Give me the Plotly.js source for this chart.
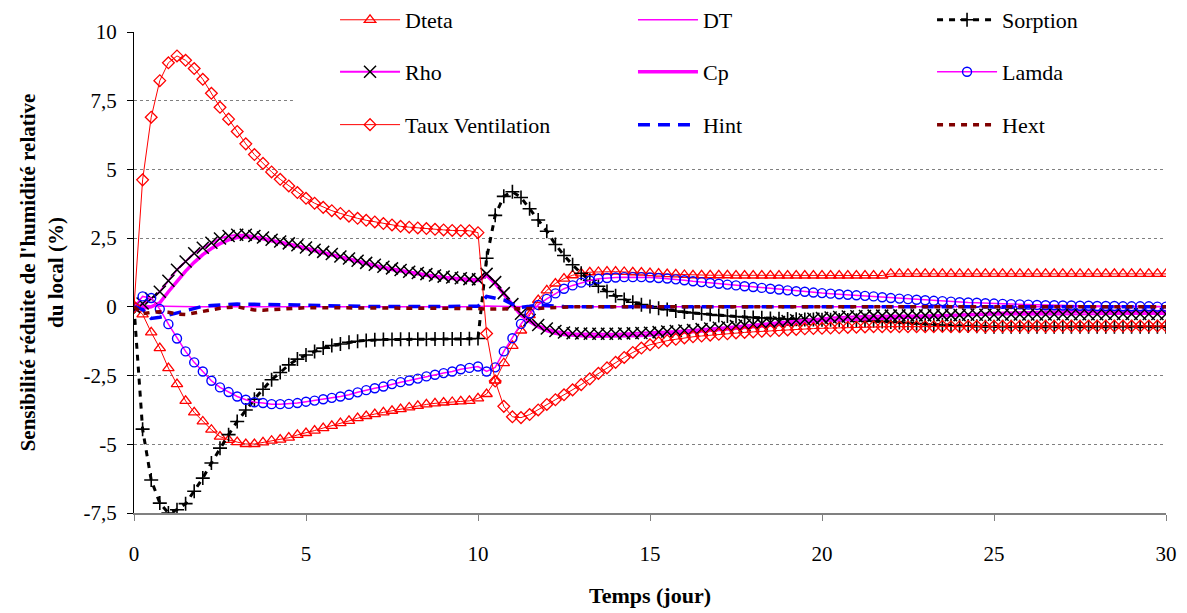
<!DOCTYPE html>
<html>
<head>
<meta charset="utf-8">
<script src="https://cdn.plot.ly/plotly-3.0.1.min.js"></script>
<style>html,body{margin:0;padding:0;background:#fff;}#chart{width:1187px;height:613px;}#chart svg text{font-family:'Liberation Serif' !important;}</style>
</head>
<body>
<div id="chart"></div>
<script>
// Time (days)
const time = [
0,0.25,0.5,0.75, 1,1.25,1.5,1.75, 2,2.25,2.5,2.75, 3,3.25,3.5,3.75, 4,4.25,4.5,4.75,
5,5.25,5.5,5.75, 6,6.25,6.5,6.75, 7,7.25,7.5,7.75, 8,8.25,8.5,8.75, 9,9.25,9.5,9.75,
10,10.25,10.5,10.75, 11,11.25,11.5,11.75, 12,12.25,12.5,12.75, 13,13.25,13.5,13.75, 14,14.25,14.5,14.75,
15,15.25,15.5,15.75, 16,16.25,16.5,16.75, 17,17.25,17.5,17.75, 18,18.25,18.5,18.75, 19,19.25,19.5,19.75,
20,20.25,20.5,20.75, 21,21.25,21.5,21.75, 22,22.25,22.5,22.75, 23,23.25,23.5,23.75, 24,24.25,24.5,24.75,
25,25.25,25.5,25.75, 26,26.25,26.5,26.75, 27,27.25,27.5,27.75, 28,28.25,28.5,28.75, 29,29.25,29.5,29.75,
30];

const dteta = [
0,-0.27,-0.93,-1.50, -2.23,-2.81,-3.42,-3.84, -4.17,-4.47,-4.72,-4.84, -4.92,-4.99,-4.99,-4.93, -4.87,-4.83,-4.76,-4.66,
-4.59,-4.50,-4.41,-4.33, -4.23,-4.15,-4.05,-3.97, -3.90,-3.84,-3.78,-3.72, -3.66,-3.60,-3.55,-3.51, -3.48,-3.46,-3.44,-3.42,
-3.33,-3.17,-2.68,-2.05, -1.42,-0.86,-0.30,0.25, 0.60,0.85,1.03,1.15, 1.22,1.26,1.27,1.28, 1.28,1.27,1.26,1.25,
1.23,1.21,1.19,1.18, 1.16,1.15,1.15,1.15, 1.15,1.15,1.14,1.14, 1.14,1.14,1.14,1.14, 1.14,1.14,1.14,1.14,
1.14,1.14,1.14,1.14, 1.14,1.14,1.14,1.14, 1.20,1.20,1.20,1.20, 1.20,1.20,1.20,1.20, 1.20,1.20,1.20,1.20,
1.20,1.20,1.20,1.20, 1.20,1.20,1.20,1.20, 1.20,1.20,1.20,1.20, 1.20,1.20,1.20,1.20, 1.20,1.20,1.20,1.20,
1.20];

const dt = [
0,0.04,0.03,0.02, 0.01,0.01,0.00,0.00, 0.00,0.00,0.00,0.00, 0.00,0.00,0.00,0.00, 0.00,0.00,0.00,0.00,
0.00,0.00,0.00,0.00, 0.00,0.00,0.00,0.00, 0.01,0.01,0.01,0.01, 0.02,0.01,0.01,0.00, 0.00,0.00,0.00,0.00,
0.00,0.03,0.02,0.01, 0.00,0.00,0.00,0.00, 0.00,0.00,0.00,0.00, 0.00,0.00,0.00,0.00, 0.00,0.00,0.00,0.00,
0.00,0.00,0.00,0.00, 0.00,0.00,0.00,0.00, 0.00,0.00,0.00,0.00, 0.00,0.00,0.00,0.00, 0.00,0.00,0.00,0.00,
0.00,0.00,0.00,0.00, 0.00,0.00,0.00,0.00, 0.00,0.00,0.00,0.00, 0.00,0.00,0.00,0.00, 0.00,0.00,0.00,0.00,
0.00,0.00,0.00,0.00, 0.00,0.00,0.00,0.00, 0.00,0.00,0.00,0.00, 0.00,0.00,0.00,0.00, 0.00,0.00,0.00,0.00,
0.00];

const sorption = [
0,-4.45,-6.30,-7.14, -7.50,-7.38,-7.16,-6.71, -6.23,-5.68,-5.14,-4.65, -4.17,-3.75,-3.36,-3.00, -2.65,-2.39,-2.11,-1.90,
-1.75,-1.62,-1.50,-1.41, -1.35,-1.29,-1.25,-1.22, -1.20,-1.19,-1.19,-1.18, -1.18,-1.18,-1.18,-1.17, -1.17,-1.17,-1.17,-1.16,
-1.15,1.77,3.33,4.02, 4.19,3.98,3.57,3.16, 2.75,2.27,1.87,1.53, 1.22,0.97,0.75,0.56, 0.40,0.27,0.17,0.08,
0.01,-0.05,-0.10,-0.15, -0.19,-0.22,-0.25,-0.28, -0.31,-0.33,-0.35,-0.37, -0.39,-0.40,-0.42,-0.43, -0.44,-0.45,-0.46,-0.46,
-0.47,-0.47,-0.48,-0.48, -0.49,-0.50,-0.51,-0.53, -0.55,-0.57,-0.59,-0.61, -0.63,-0.65,-0.66,-0.68, -0.69,-0.70,-0.71,-0.72,
-0.72,-0.72,-0.72,-0.72, -0.72,-0.72,-0.72,-0.72, -0.72,-0.72,-0.72,-0.72, -0.72,-0.72,-0.72,-0.72, -0.72,-0.72,-0.72,-0.72,
-0.72];

const rho = [
0,0.12,0.30,0.55, 0.95,1.35,1.65,1.95, 2.15,2.33,2.49,2.58, 2.62,2.62,2.58,2.52, 2.44,2.38,2.31,2.24,
2.16,2.08,2.00,1.92, 1.83,1.76,1.68,1.60, 1.53,1.46,1.40,1.34, 1.28,1.23,1.19,1.14, 1.10,1.07,1.04,1.01,
1.00,1.20,0.90,0.50, 0.10,-0.25,-0.48,-0.66, -0.79,-0.88,-0.93,-0.96, -0.97,-0.98,-0.98,-0.98, -0.98,-0.97,-0.96,-0.95,
-0.94,-0.92,-0.90,-0.88, -0.86,-0.84,-0.81,-0.79, -0.76,-0.73,-0.70,-0.67, -0.64,-0.61,-0.58,-0.55, -0.52,-0.49,-0.46,-0.43,
-0.41,-0.39,-0.37,-0.35, -0.34,-0.33,-0.32,-0.32, -0.32,-0.31,-0.31,-0.31, -0.31,-0.30,-0.30,-0.30, -0.30,-0.29,-0.29,-0.29,
-0.29,-0.29,-0.28,-0.28, -0.28,-0.28,-0.28,-0.27, -0.27,-0.27,-0.27,-0.27, -0.27,-0.26,-0.26,-0.26, -0.26,-0.26,-0.26,-0.26,
-0.26];

const cp = [
0,-0.05,0.00,0.15, 0.55,0.95,1.30,1.62, 1.90,2.12,2.30,2.44, 2.52,2.55,2.53,2.48, 2.40,2.34,2.27,2.20,
2.12,2.04,1.96,1.88, 1.79,1.72,1.64,1.56, 1.49,1.42,1.36,1.30, 1.24,1.19,1.15,1.10, 1.06,1.03,1.00,0.97,
0.96,1.15,0.85,0.45, 0.05,-0.30,-0.53,-0.72, -0.86,-0.96,-1.01,-1.04, -1.06,-1.07,-1.07,-1.07, -1.07,-1.06,-1.05,-1.04,
-1.02,-1.00,-0.98,-0.96, -0.94,-0.92,-0.89,-0.87, -0.84,-0.81,-0.78,-0.75, -0.72,-0.69,-0.66,-0.63, -0.60,-0.57,-0.55,-0.52,
-0.50,-0.49,-0.47,-0.46, -0.45,-0.44,-0.42,-0.41, -0.40,-0.38,-0.37,-0.35, -0.34,-0.33,-0.32,-0.30, -0.29,-0.28,-0.27,-0.26,
-0.24,-0.23,-0.22,-0.21, -0.20,-0.20,-0.19,-0.19, -0.18,-0.18,-0.18,-0.18, -0.17,-0.17,-0.17,-0.17, -0.17,-0.17,-0.17,-0.17,
-0.17];

const lamda = [
0,0.38,0.32,-0.08, -0.63,-1.15,-1.62,-2.02, -2.35,-2.69,-2.93,-3.10, -3.26,-3.38,-3.47,-3.50, -3.54,-3.54,-3.53,-3.50,
-3.45,-3.41,-3.36,-3.31, -3.26,-3.20,-3.11,-3.03, -2.96,-2.90,-2.81,-2.74, -2.68,-2.61,-2.53,-2.47, -2.41,-2.35,-2.27,-2.22,
-2.17,-2.35,-2.20,-1.62, -1.14,-0.62,-0.24,0.07, 0.29,0.49,0.66,0.78, 0.88,0.96,1.02,1.05, 1.07,1.08,1.08,1.08,
1.07,1.05,1.03,1.00, 0.97,0.93,0.90,0.87, 0.84,0.81,0.78,0.75, 0.72,0.69,0.66,0.63, 0.60,0.57,0.55,0.52,
0.50,0.48,0.46,0.44, 0.42,0.40,0.38,0.35, 0.32,0.30,0.28,0.26, 0.24,0.22,0.21,0.19, 0.17,0.16,0.15,0.13,
0.12,0.11,0.10,0.09, 0.08,0.07,0.06,0.06, 0.05,0.05,0.04,0.04, 0.03,0.03,0.03,0.02, 0.02,0.02,0.02,0.01,
0.01];

const tauxVentilation = [
0,4.62,6.90,8.23, 8.88,9.13,8.97,8.67, 8.28,7.77,7.26,6.83, 6.38,5.93,5.54,5.22, 4.91,4.64,4.40,4.16,
3.95,3.77,3.62,3.50, 3.40,3.30,3.22,3.15, 3.09,3.03,2.98,2.93, 2.90,2.87,2.85,2.82, 2.80,2.78,2.77,2.77,
2.70,-0.97,-2.70,-3.62, -4.00,-4.03,-3.92,-3.75, -3.55,-3.38,-3.20,-3.02, -2.83,-2.62,-2.42,-2.22, -2.02,-1.84,-1.66,-1.50,
-1.38,-1.30,-1.23,-1.18, -1.13,-1.09,-1.06,-1.03, -1.00,-0.98,-0.95,-0.93, -0.91,-0.89,-0.87,-0.86, -0.84,-0.82,-0.80,-0.79,
-0.78,-0.77,-0.76,-0.75, -0.74,-0.73,-0.72,-0.72, -0.72,-0.72,-0.72,-0.72, -0.72,-0.72,-0.71,-0.72, -0.72,-0.71,-0.71,-0.72,
-0.71,-0.71,-0.71,-0.71, -0.71,-0.70,-0.71,-0.71, -0.70,-0.70,-0.71,-0.70, -0.70,-0.70,-0.70,-0.70, -0.70,-0.70,-0.70,-0.70,
-0.70];

const hint = [
0,-0.10,-0.42,-0.38, -0.30,-0.22,-0.12,-0.04, 0.02,0.05,0.08,0.09, 0.10,0.10,0.10,0.10, 0.09,0.09,0.08,0.07,
0.06,0.05,0.04,0.03, 0.03,0.02,0.02,0.01, 0.01,0.01,0.01,0.00, 0.00,0.00,0.00,0.00, 0.00,0.00,0.00,0.01,
0.02,0.38,0.32,0.25, 0.10,-0.02,0.02,0.07, 0.05,0.02,0.01,0.00, 0.00,0.00,0.00,0.00, 0.00,0.00,0.00,0.00,
0.00,0.00,0.00,0.00, 0.00,0.00,0.00,0.00, 0.00,0.00,0.00,0.00, 0.00,0.00,0.00,0.00, 0.00,0.00,0.00,0.00,
0.00,0.00,0.00,0.00, 0.00,0.00,0.00,0.00, 0.00,0.00,0.00,0.00, 0.00,0.00,0.00,0.00, 0.00,0.00,0.00,0.00,
0.00,0.00,0.00,0.00, 0.00,0.00,0.00,0.00, 0.00,0.00,0.00,0.00, 0.00,0.00,0.00,0.00, 0.00,0.00,0.00,0.00,
0.00];

const hext = [
0,-0.25,-0.20,-0.18, -0.20,-0.26,-0.28,-0.22, -0.15,-0.10,-0.05,-0.02, 0.00,-0.06,-0.11,-0.12, -0.11,-0.09,-0.07,-0.05,
-0.03,-0.03,-0.03,-0.03, -0.03,-0.03,-0.03,-0.03, -0.03,-0.04,-0.04,-0.04, -0.04,-0.04,-0.04,-0.04, -0.04,-0.05,-0.05,-0.05,
-0.06,-0.08,-0.08,-0.08, -0.08,-0.08,-0.07,-0.06, -0.04,-0.02,0.00,0.00, 0.00,0.00,0.00,0.00, 0.00,0.00,0.00,0.00,
0.00,0.00,0.00,0.00, 0.00,0.00,0.00,0.00, 0.00,0.00,0.00,0.00, 0.00,0.00,0.00,0.00, 0.00,0.00,0.00,0.00,
0.00,0.00,0.00,0.00, 0.00,0.00,0.00,0.00, 0.00,0.00,0.00,0.00, 0.00,0.00,0.00,0.00, 0.00,0.00,0.00,0.00,
0.00,0.00,0.00,0.00, 0.00,0.00,0.00,0.00, 0.00,0.00,0.00,0.00, 0.00,0.00,0.00,0.00, 0.00,0.00,0.00,0.00,
0.00];

// Axis ticks
const xTickVals = [0, 5, 10, 15, 20, 25, 30];
const xTickText = ['0', '5', '10', '15', '20', '25', '30'];
const yTickVals = [-7.5, -5, -2.5, 0, 2.5, 5, 7.5, 10];
const yTickText = ['-7,5', '-5', '-2,5', '0', '2,5', '5', '7,5', '10'];

const SERIF = 'Liberation Serif';

const traces = [
  {name:'Dteta', x:time, y:dteta, mode:'lines+markers', legend:'legend',
   line:{color:'#FF0000', width:1},
   marker:{symbol:'triangle-up-open', size:10, color:'#FF0000', line:{width:1.3, color:'#FF0000'}}},
  {name:'DT', x:time, y:dt, mode:'lines', legend:'legend2',
   line:{color:'#FF00FF', width:1.5}},
  {name:'Sorption', x:time, y:sorption, mode:'lines+markers', legend:'legend3',
   line:{color:'#000000', width:3, dash:'6px,6px'},
   marker:{symbol:'cross-thin-open', size:10, color:'#000000', line:{width:1.6, color:'#000000'}}},
  {name:'Cp', x:time, y:cp, mode:'lines', legend:'legend5',
   line:{color:'#FF00FF', width:3.5}},
  {name:'Rho', x:time, y:rho, mode:'lines+markers', legend:'legend4',
   line:{color:'#FF00FF', width:2},
   marker:{symbol:'x-thin-open', size:12, color:'#000000', line:{width:1.5, color:'#000000'}}},
  {name:'Lamda', x:time, y:lamda, mode:'lines+markers', legend:'legend6',
   line:{color:'#FF00FF', width:1.5},
   marker:{symbol:'circle-open', size:9, color:'#0000FF', line:{width:1.4, color:'#0000FF'}}},
  {name:'Taux Ventilation', x:time, y:tauxVentilation, mode:'lines+markers', legend:'legend7',
   line:{color:'#FF0000', width:1},
   marker:{symbol:'diamond-open', size:9, color:'#FF0000', line:{width:1.3, color:'#FF0000'}}},
  {name:'Hint', x:time, y:hint, mode:'lines', legend:'legend8',
   line:{color:'#0000FF', width:3.5, dash:'12px,8px'}},
  {name:'Hext', x:time, y:hext, mode:'lines', legend:'legend9',
   line:{color:'#800000', width:3.5, dash:'6px,6px'}}
];

function legendItem(x, y) {
  return {
    orientation:'v', x:x, xanchor:'left', y:y, yanchor:'middle',
    itemwidth:60, bgcolor:'rgba(255,255,255,0)', borderwidth:0,
    font:{family:SERIF, size:22, color:'#000'}
  };
}
const colX = [0.1948, 0.4835, 0.7733];
const rowY = [1.025, 0.917, 0.807];

const layout = {
  width:1187, height:613,
  margin:{l:134, r:21, t:32, b:100, pad:0, autoexpand:false},
  paper_bgcolor:'#ffffff', plot_bgcolor:'#ffffff',
  font:{family:SERIF, size:21, color:'#000'},
  showlegend:true,
  legend:legendItem(colX[0], rowY[0]),
  legend2:legendItem(colX[1], rowY[0]),
  legend3:legendItem(colX[2], rowY[0]),
  legend4:legendItem(colX[0], rowY[1]),
  legend5:legendItem(colX[1], rowY[1]),
  legend6:legendItem(colX[2], rowY[1]),
  legend7:legendItem(colX[0], rowY[2]),
  legend8:legendItem(colX[1], rowY[2]),
  legend9:legendItem(colX[2], rowY[2]),
  xaxis:{
    range:[0, 30], tickmode:'array', tickvals:xTickVals, ticktext:xTickText,
    ticks:'outside', ticklen:6, tickcolor:'#808080', tickwidth:1,
    showline:true, linecolor:'#808080', linewidth:2,
    showgrid:false, zeroline:false, ticklabelstandoff:15,
    tickfont:{family:SERIF, size:21},
    title:{text:'<b>Temps (jour)</b>', font:{family:SERIF, size:22}, standoff:22},
    automargin:false
  },
  yaxis:{
    range:[-7.5, 10], tickmode:'array', tickvals:yTickVals, ticktext:yTickText,
    ticks:'outside', ticklen:6, tickcolor:'#000', tickwidth:1,
    showline:true, linecolor:'#000', linewidth:1,
    showgrid:true, gridcolor:'#808080', gridwidth:1, griddash:'3px,3px',
    zeroline:false, ticklabelstandoff:6,
    tickfont:{family:SERIF, size:21},
    title:{text:"<b>Sensibilité réduite de l'humidité relative<br>du local (%)</b>", font:{family:SERIF, size:21}, standoff:14},
    automargin:false
  },
  shapes:[
    {type:'rect', xref:'paper', yref:'paper', x0:0.154, x1:1.03, y0:0.772, y1:1.08,
     fillcolor:'#ffffff', line:{width:0}, layer:'above'}
  ]
};

function draw() {
  return Plotly.newPlot('chart', traces, layout, {displayModeBar:false, staticPlot:true});
}
let fontWait = Promise.resolve();
try {
  fontWait = Promise.all([
    document.fonts.load('21px "' + SERIF + '"'),
    document.fonts.load('bold 21px "' + SERIF + '"')
  ]).catch(function(){});
} catch (e) {}
fontWait.then(draw);
</script>
</body>
</html>
